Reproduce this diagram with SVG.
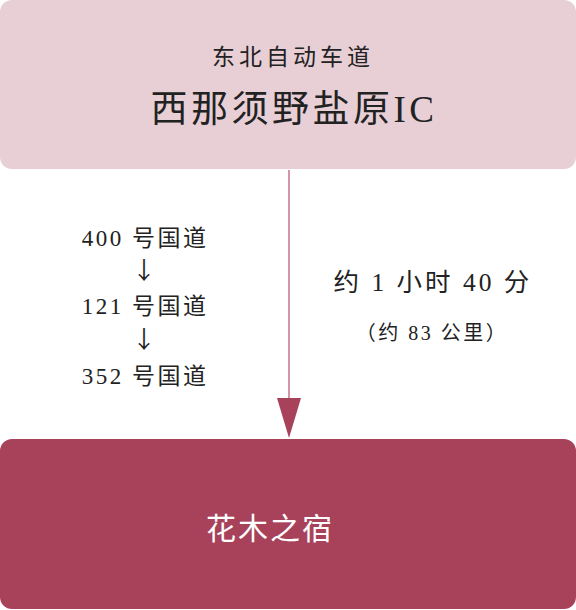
<svg xmlns="http://www.w3.org/2000/svg" width="576" height="610" viewBox="0 0 576 610">
<style>
text{font-family:"Liberation Serif","Noto Sans CJK SC",serif;fill:#222;text-anchor:middle}
.sub{font-size:23px;letter-spacing:4px}
.big{font-size:37px;letter-spacing:3.5px}
.route{font-size:23px;letter-spacing:2.5px}
.arr{font-family:"Noto Sans CJK SC",sans-serif;font-size:24px}
.time{font-size:25.5px;letter-spacing:3px}
.dist{font-size:20px;letter-spacing:2.5px}
.dest{font-size:30px;fill:#fff;letter-spacing:2px}
</style>
<g id="node-start">
<rect x="0" y="0" width="576" height="169" rx="12" fill="#e8cfd6"/>
<text class="sub" x="293" y="65">东北自动车道</text>
<text class="big" x="294" y="122">西那须野盐原IC</text>
</g>
<g id="connectors">
<line x1="289" y1="170" x2="289" y2="400" stroke="#c9718a" stroke-width="1.5"/>
<path d="M277,398 L301,398 L289,438 Z" fill="#a8425b"/>
</g>
<g id="route-label">
<text class="route" x="145" y="246">400 号国道</text>
<text class="arr" x="144" y="279">↓</text>
<text class="route" x="145" y="314">121 号国道</text>
<text class="arr" x="144" y="348">↓</text>
<text class="route" x="145" y="384">352 号国道</text>
</g>
<g id="time-label">
<text class="time" x="433" y="291">约 1 小时 40 分</text>
<text class="dist" x="432" y="340">（约 83 公里）</text>
</g>
<g id="node-dest">
<rect x="0" y="439" width="576" height="170" rx="12" fill="#a8425b"/>
<text class="dest" x="270" y="539">花木之宿</text>
</g>
</svg>
